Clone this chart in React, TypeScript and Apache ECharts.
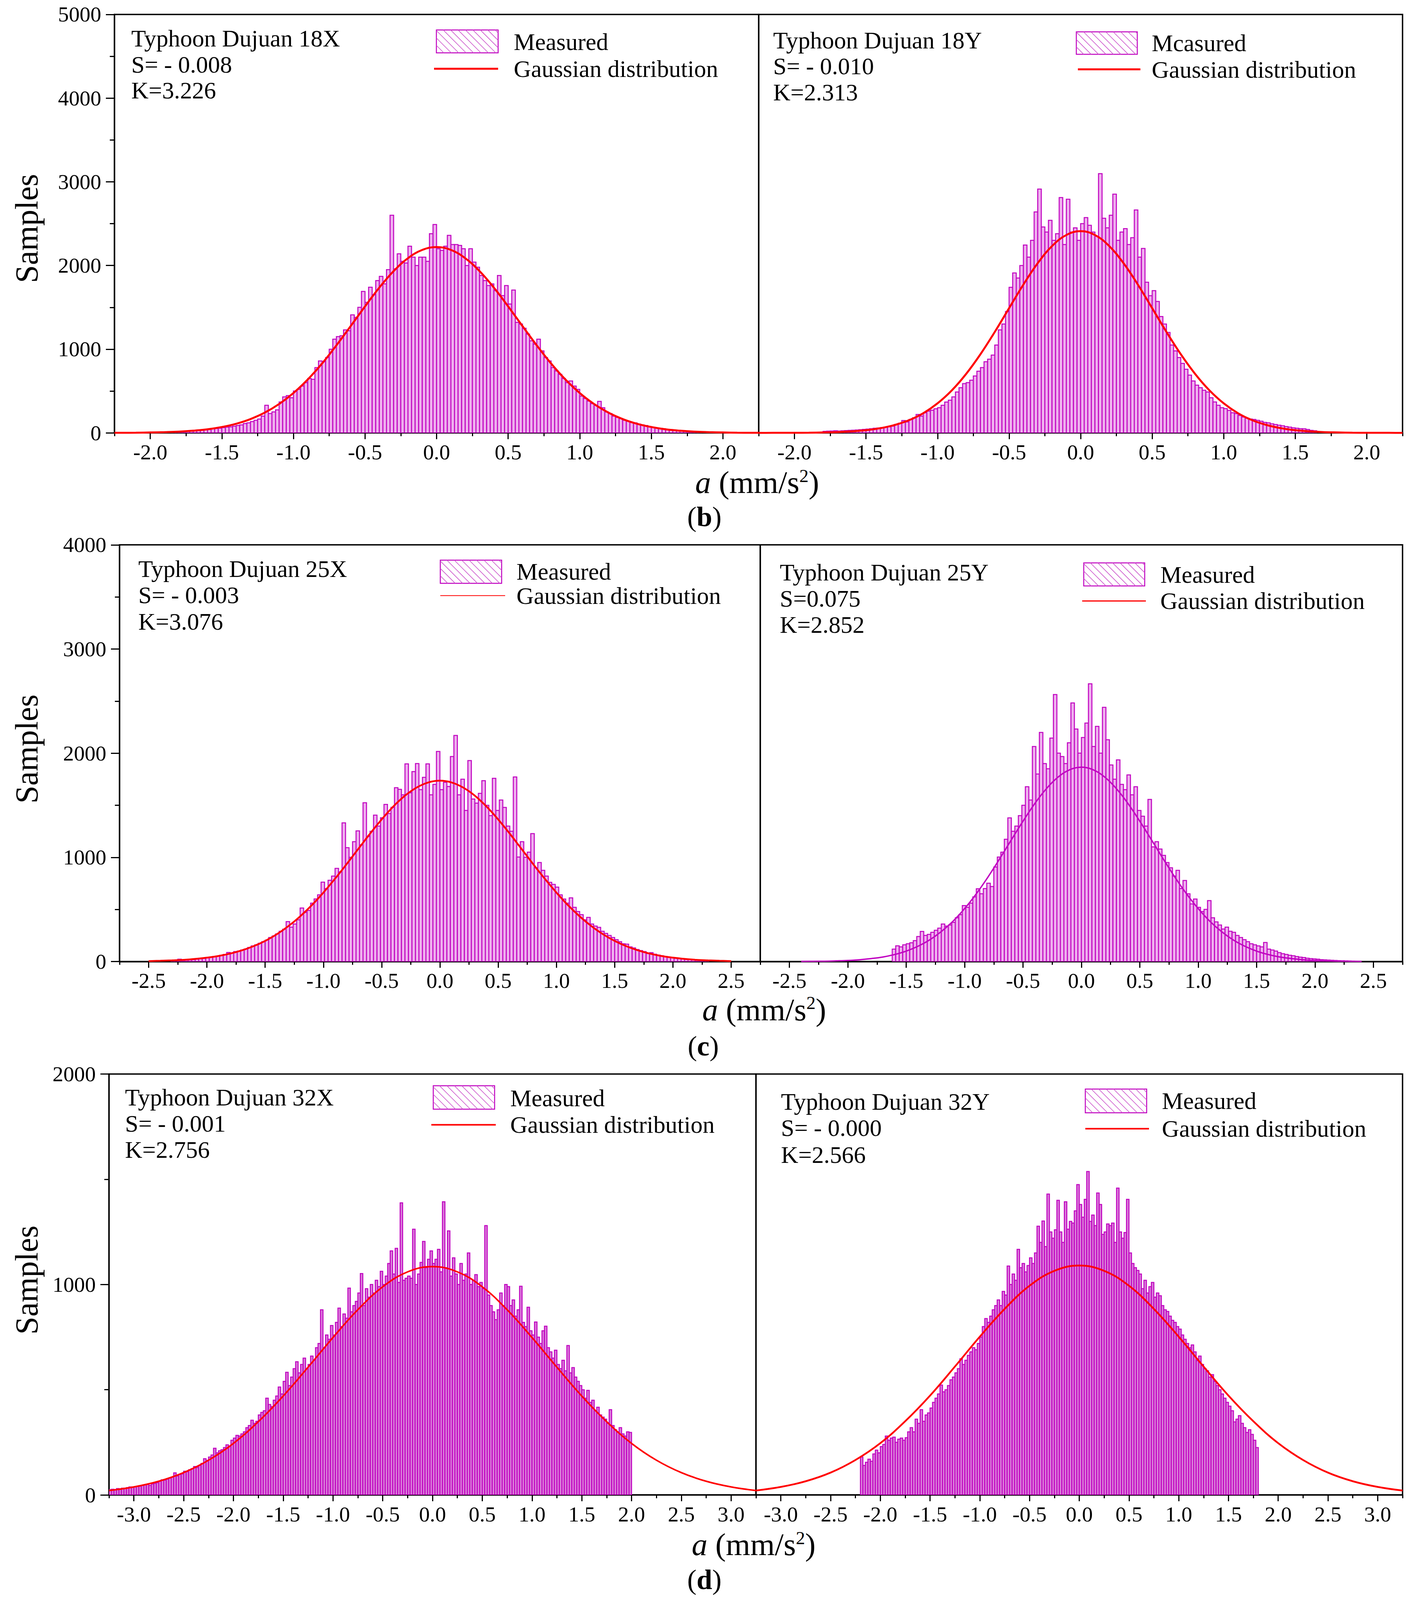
import React, { useEffect, useRef } from 'react';
import * as echarts from 'echarts';

const FONT = "'Liberation Serif', 'Times New Roman', Times, serif";
const MAG = '#c000c0';
const REF_W = 3627;
const REF_H = 5330;

// ---------- tick labels ----------
const ticksB = [-2.0, -1.5, -1.0, -0.5, 0.0, 0.5, 1.0, 1.5, 2.0];
const ticksC = [-2.5, -2.0, -1.5, -1.0, -0.5, 0.0, 0.5, 1.0, 1.5, 2.0, 2.5];
const ticksD = [-3.0, -2.5, -2.0, -1.5, -1.0, -0.5, 0.0, 0.5, 1.0, 1.5, 2.0, 2.5, 3.0];

// ---------- histogram bins ----------
const binStartBL = -1.85, binWidthBL = 0.025;
const barsBL = [
  10, 12, 15, 20, 22, 25, 28, 30, 35, 38,
  42, 48, 52, 55, 62, 68, 72, 80, 88, 95,
  112, 120, 135, 150, 165, 200, 330, 230, 250, 275,
  370, 430, 445, 420, 500, 520, 560, 600, 650, 640,
  780, 860, 850, 900, 1000, 1120, 1150, 1160, 1230, 1220,
  1410, 1380, 1500, 1690, 1560, 1740, 1650, 1820, 1870, 1780,
  1950, 2600, 1960, 2140, 2050, 2030, 2230, 2100, 2000, 2100,
  2100, 2050, 2380, 2490, 2200, 2180, 2230, 2360, 2250, 2250,
  2240, 2200, 2000, 2200, 2040, 1980, 1880, 1820, 1760, 1780,
  1700, 1880, 1640, 1760, 1540, 1707, 1320, 1300, 1250, 1180,
  1100, 1060, 1120, 980, 900, 860, 780, 740, 700, 650,
  600, 620, 560, 520, 440, 410, 380, 350, 330, 377,
  300, 250, 230, 200, 185, 170, 150, 140, 125, 120,
  105, 95, 88, 75, 65, 60, 55, 48, 42, 38,
  32, 30, 26, 22, 20, 18, 15, 12,
];

const binStartBR = -1.8, binWidthBR = 0.025;
const barsBR = [
  18, 20, 22, 25, 22, 25, 28, 30, 32, 35,
  38, 42, 45, 50, 55, 58, 62, 68, 72, 80,
  100, 115, 148, 130, 160, 180, 220, 200, 240, 260,
  270, 288, 300, 330, 368, 390, 430, 489, 540, 589,
  600, 630, 680, 737, 780, 850, 880, 930, 1050, 1230,
  1300, 1450, 1739, 1911, 1850, 2000, 2244, 2100, 2300, 2640,
  2913, 2460, 2400, 2540, 2300, 2380, 2812, 2250, 2792, 2400,
  2450, 2300, 2500, 2572, 2480, 2400, 2350, 3097, 2564, 2450,
  2600, 2853, 2300, 2400, 2440, 2250, 2332, 2664, 2100, 2204,
  1800, 1639, 1700, 1570, 1390, 1300, 1200, 1050, 980, 900,
  830, 760, 690, 620, 570, 540, 509, 489, 420, 369,
  330, 300, 290, 268, 240, 230, 208, 190, 175, 165,
  160, 150, 140, 125, 120, 108, 100, 92, 85, 75,
  68, 60, 55, 50, 48, 40, 30, 25,
];

const binStartCL = -2.31, binWidthCL = 0.03;
const barsCL = [
  6, 8, 22, 10, 12, 15, 18, 22, 25, 30,
  38, 42, 48, 52, 60, 68, 87, 80, 95, 100,
  110, 120, 135, 150, 160, 175, 190, 205, 230, 245,
  265, 290, 310, 383, 330, 360, 400, 514, 470, 490,
  560, 601, 640, 762, 700, 780, 820, 894, 860, 1331,
  1093, 1000, 1150, 1254, 1120, 1524, 1200, 1250, 1405, 1300,
  1380, 1508, 1420, 1480, 1669, 1653, 1600, 1897, 1620, 1823,
  1900, 1650, 1768, 1897, 1600, 1700, 2016, 1650, 1720, 1680,
  1968, 2170, 1600, 1750, 1450, 1929, 1560, 1520, 1614, 1736,
  1500, 1400, 1759, 1450, 1550, 1479, 1300, 1250, 1772, 1003,
  1150, 1000, 1050, 1228, 900, 950, 875, 820, 760, 740,
  714, 640, 600, 560, 611, 520, 480, 450, 400, 424,
  360, 340, 328, 290, 270, 250, 230, 210, 190, 170,
  167, 140, 130, 115, 105, 95, 77, 85, 70, 62,
  55, 48, 42, 38, 32, 28, 24, 20, 18, 15,
  12, 10, 8, 6,
];

const binStartCR = -1.62, binWidthCR = 0.03;
const barsCR = [
  119, 151, 140, 160, 170, 180, 200, 240, 289, 250,
  260, 280, 300, 320, 360, 340, 350, 376, 420, 450,
  537, 520, 560, 620, 698, 650, 700, 752, 720, 907,
  1003, 1050, 1174, 1379, 1250, 1300, 1400, 1500, 1678, 1550,
  2064, 1800, 2199, 1900, 1850, 2145, 2563, 2000, 1968, 1900,
  2100, 2482, 2232, 2000, 2150, 2289, 2666, 2064, 2257, 2000,
  2440, 2129, 1887, 1750, 1936, 1700, 1650, 1791, 1600, 1678,
  1450, 1395, 1300, 1556, 1100, 1150, 1080, 1019, 950, 900,
  820, 875, 700, 778, 650, 553, 600, 520, 480, 500,
  585, 420, 380, 350, 312, 330, 290, 280, 250, 230,
  210, 190, 170, 160, 150, 140, 183, 119, 110, 100,
  85, 75, 68, 60, 55, 48, 42, 38, 32, 28,
  25, 22, 18, 16, 14, 12, 10, 8, 7, 6,
  5, 4,
];

const binStartDL = -3.25, binWidthDL = 0.025;
const barsDL = [
  25, 27, 24, 30, 28, 32, 30, 35, 38, 36,
  38, 40, 42, 45, 48, 50, 45, 52, 55, 58,
  65, 72, 70, 75, 80, 85, 105, 90, 98, 100,
  113, 110, 120, 125, 135, 130, 140, 150, 172, 165,
  180, 190, 222, 200, 210, 215, 225, 238, 230, 260,
  270, 283, 280, 290, 300, 320, 330, 355, 340, 350,
  380, 392, 400, 460, 430, 420, 450, 470, 513, 480,
  540, 583, 520, 560, 600, 633, 580, 620, 650, 600,
  620, 660, 640, 700, 720, 880, 700, 760, 740, 805,
  760, 820, 888, 800, 860, 840, 983, 870, 900, 920,
  960, 1052, 900, 980, 940, 1000, 960, 1020, 990, 1063,
  1000, 1040, 1100, 1160, 1050, 1172, 1010, 1388, 1020, 1030,
  1040, 1030, 1263, 1000, 1050, 1105, 1205, 1080, 1120, 1160,
  1100, 1120, 1167, 1060, 1393, 1080, 1255, 1040, 1127, 1050,
  1000, 1100, 1020, 1050, 1150, 1000, 1020, 1047, 990, 1010,
  980, 1280, 950, 900, 870, 833, 880, 960, 900, 1000,
  990, 900, 927, 850, 880, 992, 820, 800, 892, 780,
  760, 822, 750, 720, 780, 802, 700, 680, 650, 688,
  620, 600, 640, 590, 710, 580, 605, 560, 540, 520,
  500, 460, 497, 440, 450, 400, 417, 380, 370, 360,
  340, 405, 330, 310, 300, 320, 290, 280, 300, 297,
];

const binStartDR = -2.2, binWidthDR = 0.025;
const barsDR = [
  180, 140, 155, 170, 160, 195, 213, 200, 230, 240,
  280, 260, 270, 275, 250, 265, 270, 260, 272, 300,
  320, 300, 360, 340, 405, 350, 380, 390, 413, 440,
  460, 480, 522, 490, 500, 520, 547, 560, 580, 600,
  647, 620, 640, 663, 680, 700, 690, 720, 750, 800,
  838, 820, 850, 880, 900, 927, 900, 967, 950, 1088,
  1000, 1050, 1020, 1167, 1080, 1100, 1060, 1090, 1127, 1100,
  1150, 1277, 1200, 1302, 1180, 1430, 1250, 1220, 1260, 1400,
  1250, 1200, 1393, 1263, 1300, 1292, 1350, 1475, 1380, 1320,
  1405, 1537, 1300, 1330, 1280, 1435, 1380, 1238, 1250, 1288,
  1280, 1292, 1200, 1458, 1250, 1220, 1247, 1405, 1150, 1100,
  1080, 1067, 1050, 980, 1020, 960, 990, 1010, 940, 960,
  947, 900, 880, 872, 850, 830, 820, 800, 788, 760,
  740, 720, 700, 713, 680, 638, 660, 620, 600, 590,
  560, 572, 540, 520, 500, 480, 460, 440, 422, 400,
  347, 360, 377, 340, 320, 297, 310, 288, 260, 225,
];

// ---------- Gaussian curves ----------
const gaussXB = [
  -2.25, -2.2, -2.1, -2.0, -1.9, -1.8, -1.7, -1.6, -1.5, -1.4, -1.3, -1.2, -1.1, -1.0,
  -0.9, -0.8, -0.7, -0.6, -0.5, -0.4, -0.3, -0.2, -0.1, 0.0, 0.1, 0.2, 0.3, 0.4, 0.5,
  0.6, 0.7, 0.8, 0.9, 1.0, 1.1, 1.2, 1.3, 1.4, 1.5, 1.6, 1.7, 1.8, 1.9, 2.0, 2.1, 2.2, 2.25,
];
const gaussYBL = [
  1, 1, 2, 5, 9, 15, 26, 43, 70, 109, 165, 242, 345, 476,
  638, 829, 1045, 1276, 1511, 1736, 1933, 2087, 2186, 2220, 2186, 2087, 1933, 1736, 1511,
  1276, 1045, 829, 638, 476, 345, 242, 165, 109, 70, 43, 26, 15, 9, 5, 2, 1, 1,
];
const gaussYBR = [
  0, 0, 1, 1, 2, 5, 9, 18, 32, 56, 94, 151, 235, 353,
  508, 705, 940, 1206, 1490, 1772, 2027, 2232, 2364, 2410, 2364, 2232, 2027, 1772, 1490,
  1206, 940, 705, 508, 353, 235, 151, 94, 56, 32, 18, 9, 5, 2, 1, 1, 0, 0,
];
const gaussXCL = [
  -2.5, -2.4, -2.3, -2.2, -2.1, -2.0, -1.9, -1.8, -1.7, -1.6, -1.5, -1.4, -1.3, -1.2, -1.1, -1.0,
  -0.9, -0.8, -0.7, -0.6, -0.5, -0.4, -0.3, -0.2, -0.1, 0.0, 0.1, 0.2, 0.3, 0.4, 0.5,
  0.6, 0.7, 0.8, 0.9, 1.0, 1.1, 1.2, 1.3, 1.4, 1.5, 1.6, 1.7, 1.8, 1.9, 2.0, 2.1, 2.2, 2.3, 2.4, 2.5,
];
const gaussYCL = [
  4, 7, 11, 16, 25, 37, 53, 76, 107, 147, 198, 262, 340, 433, 540, 662,
  795, 936, 1082, 1227, 1364, 1488, 1592, 1670, 1719, 1736, 1719, 1670, 1592, 1488, 1364,
  1227, 1082, 936, 795, 662, 540, 433, 340, 262, 198, 147, 107, 76, 53, 37, 25, 16, 11, 7, 4,
];
const gaussXCR = [
  -2.4, -2.3, -2.2, -2.1, -2.0, -1.9, -1.8, -1.7, -1.6, -1.5, -1.4, -1.3, -1.2, -1.1, -1.0,
  -0.9, -0.8, -0.7, -0.6, -0.5, -0.4, -0.3, -0.2, -0.1, 0.0, 0.1, 0.2, 0.3, 0.4, 0.5,
  0.6, 0.7, 0.8, 0.9, 1.0, 1.1, 1.2, 1.3, 1.4, 1.5, 1.6, 1.7, 1.8, 1.9, 2.0, 2.1, 2.2, 2.3, 2.4,
];
const gaussYCR = [
  1, 2, 3, 6, 10, 17, 28, 43, 67, 100, 146, 207, 287, 386, 508,
  650, 811, 986, 1168, 1347, 1515, 1659, 1770, 1841, 1865, 1841, 1770, 1659, 1515, 1347,
  1168, 986, 811, 650, 508, 386, 287, 207, 146, 100, 67, 43, 28, 17, 10, 6, 3, 2, 1,
];
const gaussXD = [
  -3.25, -3.0, -2.75, -2.5, -2.25, -2.0, -1.75, -1.5, -1.25, -1.0, -0.75, -0.5, -0.25, 0.0,
  0.25, 0.5, 0.75, 1.0, 1.25, 1.5, 1.75, 2.0, 2.25, 2.5, 2.75, 3.0, 3.25,
];
const gaussYDL = [
  21, 38, 65, 106, 165, 245, 348, 470, 607, 748, 880, 989, 1060, 1085,
  1060, 989, 880, 748, 607, 470, 348, 245, 165, 106, 65, 38, 21,
];
const gaussYDR = [
  21, 38, 65, 106, 166, 246, 350, 472, 610, 752, 884, 994, 1065, 1090,
  1065, 994, 884, 752, 610, 472, 350, 246, 166, 106, 65, 38, 21,
];

// ---------- annotation texts ----------
const infoBL = ['Typhoon Dujuan 18X', 'S= - 0.008', 'K=3.226'];
const infoBR = ['Typhoon Dujuan 18Y', 'S= - 0.010', 'K=2.313'];
const infoCL = ['Typhoon Dujuan 25X', 'S= - 0.003', 'K=3.076'];
const infoCR = ['Typhoon Dujuan 25Y', 'S=0.075', 'K=2.852'];
const infoDL = ['Typhoon Dujuan 32X', 'S= - 0.001', 'K=2.756'];
const infoDR = ['Typhoon Dujuan 32Y', 'S= - 0.000', 'K=2.566'];

// ---------- layout (in reference pixels; y values are scaled to the window) ----------
const panels = [
  {
    grid: { left: 293, top: 48, width: 1649, height: 1394 }, xMin: -2.25, xMax: 2.25, yMax: 5000, showY: true,
    ticks: ticksB, binStart: binStartBL, binWidth: binWidthBL, bars: barsBL, gx: gaussXB, gy: gaussYBL, fill: '#eeb0ee',
    lineColor: '#ff0000', lineWidth: 5, info: infoBL, infoX: 336, infoY: [128, 215, 301],
    box: [1117, 100, 158, 76], legLine: [1111, 1275, 229], legLineWidth: 5, legX: 1315, measY: 139, gaussY: 229, measText: 'Measured',
  },
  {
    grid: { left: 1942, top: 48, width: 1648, height: 1394 }, xMin: -2.25, xMax: 2.25, yMax: 5000, showY: false,
    ticks: ticksB, binStart: binStartBR, binWidth: binWidthBR, bars: barsBR, gx: gaussXB, gy: gaussYBR, fill: '#eeb0ee',
    lineColor: '#ff0000', lineWidth: 5, info: infoBR, infoX: 1979, infoY: [134, 220, 307],
    box: [2755, 106, 156, 75], legLine: [2759, 2919, 231], legLineWidth: 5, legX: 2948, measY: 143, gaussY: 231, measText: 'Mcasured',
  },
  {
    grid: { left: 306, top: 1815, width: 1640, height: 1388 }, xMin: -2.75, xMax: 2.75, yMax: 4000, showY: true,
    ticks: ticksC, binStart: binStartCL, binWidth: binWidthCL, bars: barsCL, gx: gaussXCL, gy: gaussYCL, fill: '#eeb0ee',
    lineColor: '#ff0000', lineWidth: 4.5, info: infoCL, infoX: 354, infoY: [1895, 1982, 2070],
    box: [1127, 1866, 157, 77], legLine: [1127, 1293, 1984], legLineWidth: 2, legX: 1322, measY: 1904, gaussY: 1984, measText: 'Measured',
  },
  {
    grid: { left: 1946, top: 1815, width: 1644, height: 1388 }, xMin: -2.75, xMax: 2.75, yMax: 4000, showY: false,
    ticks: ticksC, binStart: binStartCR, binWidth: binWidthCR, bars: barsCR, gx: gaussXCR, gy: gaussYCR, fill: '#eeb0ee',
    lineColor: MAG, lineWidth: 3.5, info: infoCR, infoX: 1996, infoY: [1906, 1993, 2081],
    box: [2774, 1875, 156, 77], legLine: [2770, 2933, 2002], legLineWidth: 3, legX: 2970, measY: 1914, gaussY: 2002, measText: 'Measured',
  },
  {
    grid: { left: 279, top: 3578, width: 1656, height: 1402 }, xMin: -3.25, xMax: 3.25, yMax: 2000, showY: true,
    ticks: ticksD, binStart: binStartDL, binWidth: binWidthDL, bars: barsDL, gx: gaussXD, gy: gaussYDL, fill: '#da80da',
    lineColor: '#ff0000', lineWidth: 4, info: infoDL, infoX: 320, infoY: [3655, 3743, 3830],
    box: [1109, 3617, 157, 78], legLine: [1104, 1269, 3747], legLineWidth: 4, legX: 1306, measY: 3658, gaussY: 3747, measText: 'Measured',
  },
  {
    grid: { left: 1935, top: 3578, width: 1655, height: 1402 }, xMin: -3.25, xMax: 3.25, yMax: 2000, showY: false,
    ticks: ticksD, binStart: binStartDR, binWidth: binWidthDR, bars: barsDR, gx: gaussXD, gy: gaussYDR, fill: '#da80da',
    lineColor: '#ff0000', lineWidth: 4.5, info: infoDR, infoX: 1999, infoY: [3669, 3757, 3847],
    box: [2778, 3628, 157, 79], legLine: [2778, 2941, 3760], legLineWidth: 4, legX: 2974, measY: 3667, gaussY: 3760, measText: 'Measured',
  },
];

const rowTitles = [
  { samplesY: 761, aX: 1938, aY: 1607, letter: 'b', letterX: 1803, letterY: 1722 },
  { samplesY: 2495, aX: 1956, aY: 3363, letter: 'c', letterX: 1800, letterY: 3485 },
  { samplesY: 4264, aX: 1929, aY: 5145, letter: 'd', letterX: 1803, letterY: 5262 },
];

function buildOption(sy: number) {
  const fs = Math.sqrt(sy);
  const Y = (v: number) => v * sy;
  const grid: any[] = [];
  const xAxis: any[] = [];
  const yAxis: any[] = [];
  const series: any[] = [];
  const graphic: any[] = [];
  const axisLineStyle = { color: '#000', width: 3.5 };
  const tickStyle = { color: '#000', width: 3 };

  const textEl = (text: string, x: number, y: number, size: number) => ({
    type: 'text', x, y, silent: true,
    style: {
      text, fontSize: size, fontFamily: FONT, fill: '#000',
      align: 'left', verticalAlign: 'middle', textAlign: 'left', textVerticalAlign: 'middle',
    },
  });

  const hatchBox = (x: number, y: number, w: number, h: number) => {
    const els: any[] = [];
    els.push({ type: 'rect', silent: true, shape: { x, y, width: w, height: h }, style: { fill: '#fff', stroke: MAG, lineWidth: 2.5 } });
    const step = 19;
    for (let t = -h; t < w; t += step) {
      const u0 = Math.max(0, -t);
      const u1 = Math.min(h, w - t);
      if (u1 <= u0) continue;
      els.push({
        type: 'line', silent: true,
        shape: { x1: x + t + u0, y1: y + u0, x2: x + t + u1, y2: y + u1 },
        style: { stroke: '#cc55cc', lineWidth: 1.6 },
      });
    }
    return els;
  };

  panels.forEach((p, i) => {
    grid.push({
      left: p.grid.left, width: p.grid.width, top: Y(p.grid.top), height: Y(p.grid.height),
      show: true, borderColor: '#000', borderWidth: 3.5, backgroundColor: 'transparent', containLabel: false,
    });
    xAxis.push({
      type: 'value', gridIndex: i, min: p.xMin, max: p.xMax, interval: 0.25, position: 'bottom',
      axisLine: { show: true, onZero: false, lineStyle: axisLineStyle },
      axisTick: { show: true, length: 11 * sy, lineStyle: tickStyle },
      axisLabel: {
        show: true, customValues: p.ticks, margin: 28 * sy, fontSize: 63 * fs, fontFamily: FONT, color: '#000',
        formatter: (v: number) => (Math.abs(v) < 1e-9 ? '0.0' : v.toFixed(1)),
      },
      splitLine: { show: false },
    });
    xAxis.push({
      type: 'value', gridIndex: i, min: p.xMin, max: p.xMax, position: 'bottom',
      axisLine: { show: false, onZero: false },
      axisTick: { show: true, customValues: p.ticks, length: 21 * sy, lineStyle: tickStyle },
      axisLabel: { show: false },
      splitLine: { show: false },
    });
    yAxis.push({
      type: 'value', gridIndex: i, min: 0, max: p.yMax, interval: 1000, position: 'left',
      axisLine: { show: p.showY, onZero: false, lineStyle: axisLineStyle },
      axisTick: { show: p.showY, length: 22, lineStyle: tickStyle },
      minorTick: { show: p.showY, splitNumber: 2, length: 12, lineStyle: tickStyle },
      axisLabel: {
        show: p.showY, margin: 34, fontSize: 63 * fs, fontFamily: FONT, color: '#000',
        formatter: (v: number) => String(Math.round(v)),
      },
      splitLine: { show: false },
      minorSplitLine: { show: false },
    });
    const w = p.binWidth;
    const fill = p.fill;
    series.push({
      type: 'custom', xAxisIndex: 2 * i, yAxisIndex: i, silent: true, clip: true, z: 2,
      data: p.bars.map((v, k) => [p.binStart + k * w, v]),
      renderItem: (params: any, api: any) => {
        const x0 = api.value(0);
        const v = api.value(1);
        const a = api.coord([x0, v]);
        const b = api.coord([x0 + w, 0]);
        return {
          type: 'rect',
          shape: { x: a[0], y: a[1], width: b[0] - a[0], height: b[1] - a[1] },
          style: { fill, stroke: MAG, lineWidth: 2.5 },
        };
      },
    });
    series.push({
      type: 'line', xAxisIndex: 2 * i, yAxisIndex: i, silent: true, clip: true, z: 5,
      data: p.gx.map((x, k) => [x, p.gy[k]]),
      smooth: 0.4, showSymbol: false, symbol: 'none',
      lineStyle: { color: p.lineColor, width: p.lineWidth },
    });

    p.info.forEach((t, k) => graphic.push(textEl(t, p.infoX, Y(p.infoY[k]), 70 * fs)));
    hatchBox(p.box[0], Y(p.box[1]), p.box[2], Y(p.box[3])).forEach((e) => graphic.push(e));
    graphic.push({
      type: 'line', silent: true,
      shape: { x1: p.legLine[0], y1: Y(p.legLine[2]), x2: p.legLine[1], y2: Y(p.legLine[2]) },
      style: { stroke: '#ff0000', lineWidth: p.legLineWidth },
    });
    graphic.push(textEl(p.measText, p.legX, Y(p.measY), 70 * fs));
    graphic.push(textEl('Gaussian distribution', p.legX, Y(p.gaussY), 70 * fs));
  });

  rowTitles.forEach((r) => {
    graphic.push({
      type: 'text', x: 68, y: Y(r.samplesY), rotation: Math.PI / 2, silent: true,
      style: {
        text: 'Samples', fontSize: 94 * fs, fontFamily: FONT, fill: '#000',
        align: 'center', verticalAlign: 'middle', textAlign: 'center', textVerticalAlign: 'middle',
      },
    });
    graphic.push({
      type: 'text', x: r.aX, y: Y(r.aY), silent: true,
      style: {
        text: '{i|a} (mm/s{s|2})', fontSize: 92 * fs, fontFamily: FONT, fill: '#000',
        align: 'center', verticalAlign: 'middle', textAlign: 'center', textVerticalAlign: 'middle',
        rich: {
          i: { fontSize: 92 * fs, fontFamily: FONT, fontStyle: 'italic', fill: '#000' },
          s: { fontSize: 54 * fs, fontFamily: FONT, fill: '#000', verticalAlign: 'top' },
        },
      },
    });
    graphic.push({
      type: 'text', x: r.letterX, y: Y(r.letterY), silent: true,
      style: {
        text: '({b|' + r.letter + '})', fontSize: 82 * fs, fontFamily: FONT, fill: '#000',
        align: 'center', verticalAlign: 'middle', textAlign: 'center', textVerticalAlign: 'middle',
        rich: { b: { fontSize: 82 * fs, fontFamily: FONT, fontWeight: 'bold', fill: '#000' } },
      },
    });
  });

  return {
    animation: false,
    backgroundColor: '#ffffff',
    grid, xAxis, yAxis, series, graphic,
  };
}

function pageHeight() {
  const h = typeof window !== 'undefined' ? window.innerHeight : REF_H;
  if (!h || h <= 0) return REF_H;
  return Math.min(REF_H, h);
}

export default function App() {
  const ref = useRef<HTMLDivElement>(null);
  const H = pageHeight();
  useEffect(() => {
    document.body.style.margin = '0';
    document.documentElement.style.overflow = 'hidden';
    if (!ref.current) return;
    const chart = echarts.init(ref.current, null, { renderer: 'svg' });
    chart.setOption(buildOption(H / REF_H) as any);
    return () => chart.dispose();
  }, []);
  return <div ref={ref} style={{ width: REF_W, height: H, background: '#fff' }} />;
}
